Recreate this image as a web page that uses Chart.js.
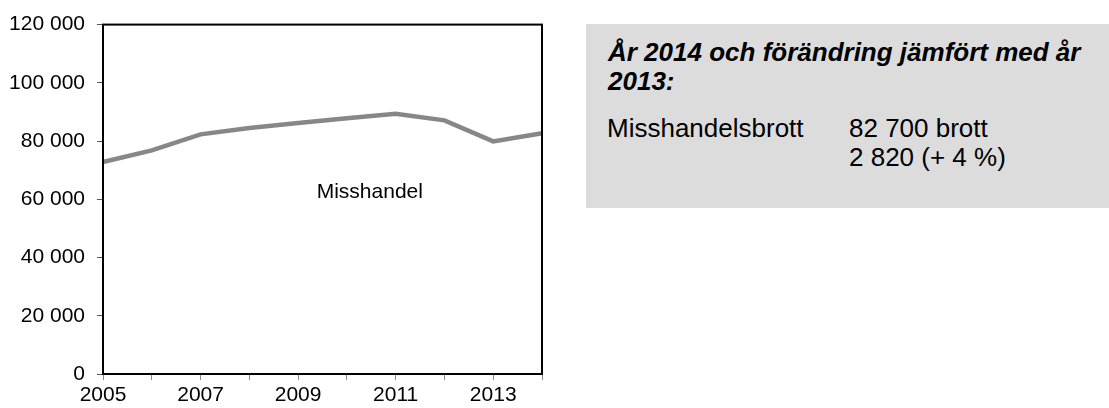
<!DOCTYPE html>
<html>
<head>
<meta charset="utf-8">
<script src="https://cdn.jsdelivr.net/npm/chart.js@4.4.1/dist/chart.umd.min.js"></script>
<style>
  html, body { margin:0; padding:0; background:#fff; }
  #wrap { position:relative; width:1109px; height:408px; overflow:hidden; }
  #c { position:absolute; left:0; top:0; }
  #box { position:absolute; left:586px; top:24px; width:523px; height:184px; background:#dcdcdc;
         font-family:"Liberation Sans", Arial, sans-serif; color:#000; }
  #title { position:absolute; left:22px; top:14px; width:495px; font-weight:bold; font-style:italic; font-size:26px; line-height:28.5px; white-space:nowrap; }
  .row { position:absolute; font-size:26px; line-height:29px; white-space:nowrap; }
</style>
</head>
<body>
<div id="wrap">
  <canvas id="c" width="1109" height="408"></canvas>
  <div id="box">
    <div id="title">År 2014 och förändring jämfört med år<br>2013:</div>
    <div class="row" style="left:21px; top:90px;">Misshandelsbrott</div>
    <div class="row" style="left:263px; top:90px;">82 700 brott<br>2 820 (+ 4 %)</div>
  </div>
</div>
<script>
const years = ["2005","2006","2007","2008","2009","2010","2011","2012","2013","2014"];
const misshandel = [72800, 76800, 82300, 84500, 86200, 87800, 89400, 87100, 79880, 82700];
const yTicks = [0, 20000, 40000, 60000, 80000, 100000, 120000];
const seriesLabel = "Misshandel";
const seriesLabelPos = [5.47, 60300];

function fmt(v) { return String(v).replace(/\B(?=(\d{3})+(?!\d))/g, " "); }

const frame = {
  id: 'frame',
  afterDatasetsDraw(chart) {
    const {ctx, chartArea: a, scales} = chart;
    ctx.save();
    ctx.strokeStyle = '#000';
    ctx.lineWidth = 2;
    ctx.strokeRect(a.left, a.top, a.right - a.left, a.bottom - a.top);
    ctx.fillStyle = '#000';
    ctx.font = '21px "Liberation Sans", Arial, sans-serif';
    ctx.textAlign = 'center';
    ctx.textBaseline = 'alphabetic';
    ctx.fillText(seriesLabel, scales.x.getPixelForValue(seriesLabelPos[0]), scales.y.getPixelForValue(seriesLabelPos[1]));
    ctx.restore();
  }
};

new Chart(document.getElementById('c'), {
  type: 'line',
  data: {
    labels: years,
    datasets: [{
      label: seriesLabel,
      data: misshandel,
      borderColor: '#878787',
      borderWidth: 4.5,
      pointRadius: 0,
      tension: 0,
      fill: false
    }]
  },
  options: {
    responsive: false,
    animation: false,
    events: [],
    layout: { padding: { left: 0, right: 567, top: 24, bottom: 0 } },
    plugins: { legend: { display: false }, tooltip: { enabled: false } },
    scales: {
      x: {
        offset: false,
        grid: { drawOnChartArea: false, drawTicks: true, tickLength: 6, color: '#8a8a8a', lineWidth: 1 },
        border: { display: false },
        ticks: {
          autoSkip: false, maxRotation: 0, padding: 3, color: '#000',
          font: { family: '"Liberation Sans", Arial, sans-serif', size: 21 },
          callback: (v, i) => (i % 2 === 0 ? years[i] : '')
        },
        afterFit(s) { s.height = 34; }
      },
      y: {
        min: 0, max: 120000,
        afterBuildTicks(s) { s.ticks = yTicks.map(v => ({ value: v })); },
        grid: { drawOnChartArea: false, drawTicks: true, tickLength: 6, color: '#555', lineWidth: 1 },
        border: { display: false },
        ticks: {
          padding: 12, color: '#000',
          font: { family: '"Liberation Sans", Arial, sans-serif', size: 21 },
          callback: v => fmt(v)
        },
        afterFit(s) { s.width = 103; }
      }
    }
  },
  plugins: [frame]
});
</script>
</body>
</html>
